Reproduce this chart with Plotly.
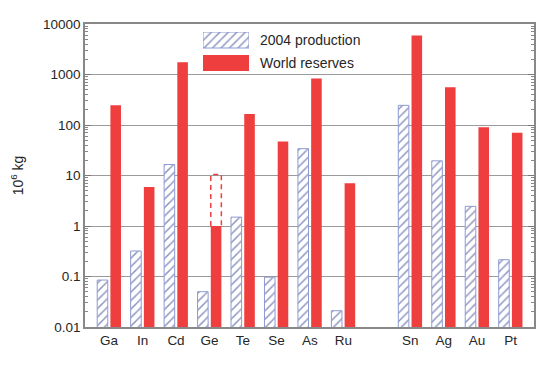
import plotly.graph_objects as go

elements = ["Ga", "In", "Cd", "Ge", "Te", "Se", "As", "Ru", "Sn", "Ag", "Au", "Pt"]
positions = [0, 1, 2, 3, 4, 5, 6, 7, 9, 10, 11, 12]
production_2004 = [0.085, 0.32, 16.5, 0.05, 1.5, 0.097, 34, 0.021, 245, 19.5, 2.45, 0.215]
world_reserves = [245, 5.9, 1750, 1.0, 165, 47, 830, 7.0, 5900, 560, 90, 70]
# Ge reserves uncertainty range (dashed outline)
ge_range_low = 1.0
ge_range_high = 10.5

y_tickvals = [0.01, 0.1, 1, 10, 100, 1000, 10000]
y_ticktext = ["0.01", "0.1", "1", "10", "100", "1000", "10000"]
legend_labels = ["2004 production", "World reserves"]

RED = "#ee3e3e"
NAVY = "#22328a"
EDGE = "#8e9ad2"
TXT = "#262626"
FONT = "Liberation Sans, Arial, sans-serif"

bargap = 0.21
bargroupgap = 0.2

# page body margin offset and figure geometry (window is 554 x 366)
OFF = 8
W, H = 546, 358
ML, MR, MT, MB = 77, 20, 16, 39
PW, PH = W - ML - MR, H - MT - MB


def px_x(px):
    return (px - OFF - ML) / PW


def px_y(py):
    return (OFF + H - MB - py) / PH


hatch = dict(shape="/", fgcolor=NAVY, bgcolor="white", size=6, solidity=0.25)

fig = go.Figure()
fig.add_trace(go.Bar(
    x=positions, y=production_2004, name=legend_labels[0], showlegend=False,
    marker=dict(color="white", line=dict(color=EDGE, width=1), pattern=hatch),
))
fig.add_trace(go.Bar(
    x=positions, y=world_reserves, name=legend_labels[1], showlegend=False,
    marker=dict(color=RED, line=dict(width=0)),
))

# dashed outline for Ge reserves range, placed at the reserves bar slot
ge_x = positions[elements.index("Ge")]
sub = (1 - bargap) / 2
cx = ge_x + sub / 2
hw = sub * (1 - bargroupgap) / 2
fig.add_trace(go.Scatter(
    x=[cx - hw, cx - hw, cx + hw, cx + hw],
    y=[ge_range_low, ge_range_high, ge_range_high, ge_range_low],
    mode="lines", line=dict(color=RED, width=1.5, dash="5px,4px"),
    showlegend=False, hoverinfo="skip",
))

# ---- legend (large swatches) drawn on a small overlay axis ----
sw_left, sw_right, sw_top, sw_bot = 203, 249, 32, 71
fig.add_trace(go.Scatter(
    x=[0, 1, 1, 0, 0], y=[0, 0, 16, 16, 0], fill="toself", mode="lines",
    line=dict(color=EDGE, width=1), fillcolor="white", fillpattern=hatch,
    xaxis="x2", yaxis="y2", showlegend=False, hoverinfo="skip",
))
fig.add_trace(go.Scatter(
    x=[0, 1, 1, 0, 0], y=[23, 23, 39, 39, 23], fill="toself", mode="lines",
    line=dict(color=RED, width=0), fillcolor=RED,
    xaxis="x2", yaxis="y2", showlegend=False, hoverinfo="skip",
))

fig.add_shape(type="rect", xref="paper", yref="paper", layer="between",
              x0=px_x(194), x1=px_x(363), y0=px_y(80), y1=px_y(26),
              fillcolor="white", line=dict(width=0))
for i, lab in enumerate(legend_labels):
    fig.add_annotation(text=lab, xref="paper", yref="paper",
                       x=px_x(258), y=px_y(40 + 23 * i), xanchor="left", yanchor="middle",
                       showarrow=False, font=dict(size=14, color=TXT))

fig.update_layout(
    width=W, height=H,
    margin=dict(l=ML, r=MR, t=MT, b=MB),
    paper_bgcolor="white", plot_bgcolor="white",
    barmode="group", bargap=bargap, bargroupgap=bargroupgap,
    font=dict(family=FONT, size=13.5, color=TXT),
    showlegend=False,
    xaxis=dict(
        range=[-0.72, 12.70], tickvals=positions, ticktext=elements,
        showgrid=False, zeroline=False, ticks="", ticklen=0,
        showline=True, linecolor="#888", linewidth=1.5, mirror=True,
        tickfont=dict(size=13.5, color=TXT), automargin=False,
    ),
    yaxis=dict(
        type="log", range=[-2, 4], tickvals=y_tickvals, ticktext=y_ticktext,
        showgrid=True, gridcolor="#9a9a9a", gridwidth=1,
        showline=True, linecolor="#888", linewidth=1.5, mirror="ticks",
        ticks="inside", ticklen=6, tickcolor="#777",
        minor=dict(ticks="inside", ticklen=3, tickcolor="#888", dtick="D1", showgrid=False),
        tickfont=dict(size=13.5, color=TXT), automargin=False,
        title=dict(text="10<sup>6</sup> kg", font=dict(size=14, color=TXT), standoff=16),
    ),
    xaxis2=dict(domain=[px_x(sw_left), px_x(sw_right)], range=[0, 1], anchor="y2",
                visible=False, fixedrange=True),
    yaxis2=dict(domain=[px_y(sw_bot), px_y(sw_top)], range=[39, 0], anchor="x2",
                visible=False, fixedrange=True),
)

fig.write_html("out.html")
